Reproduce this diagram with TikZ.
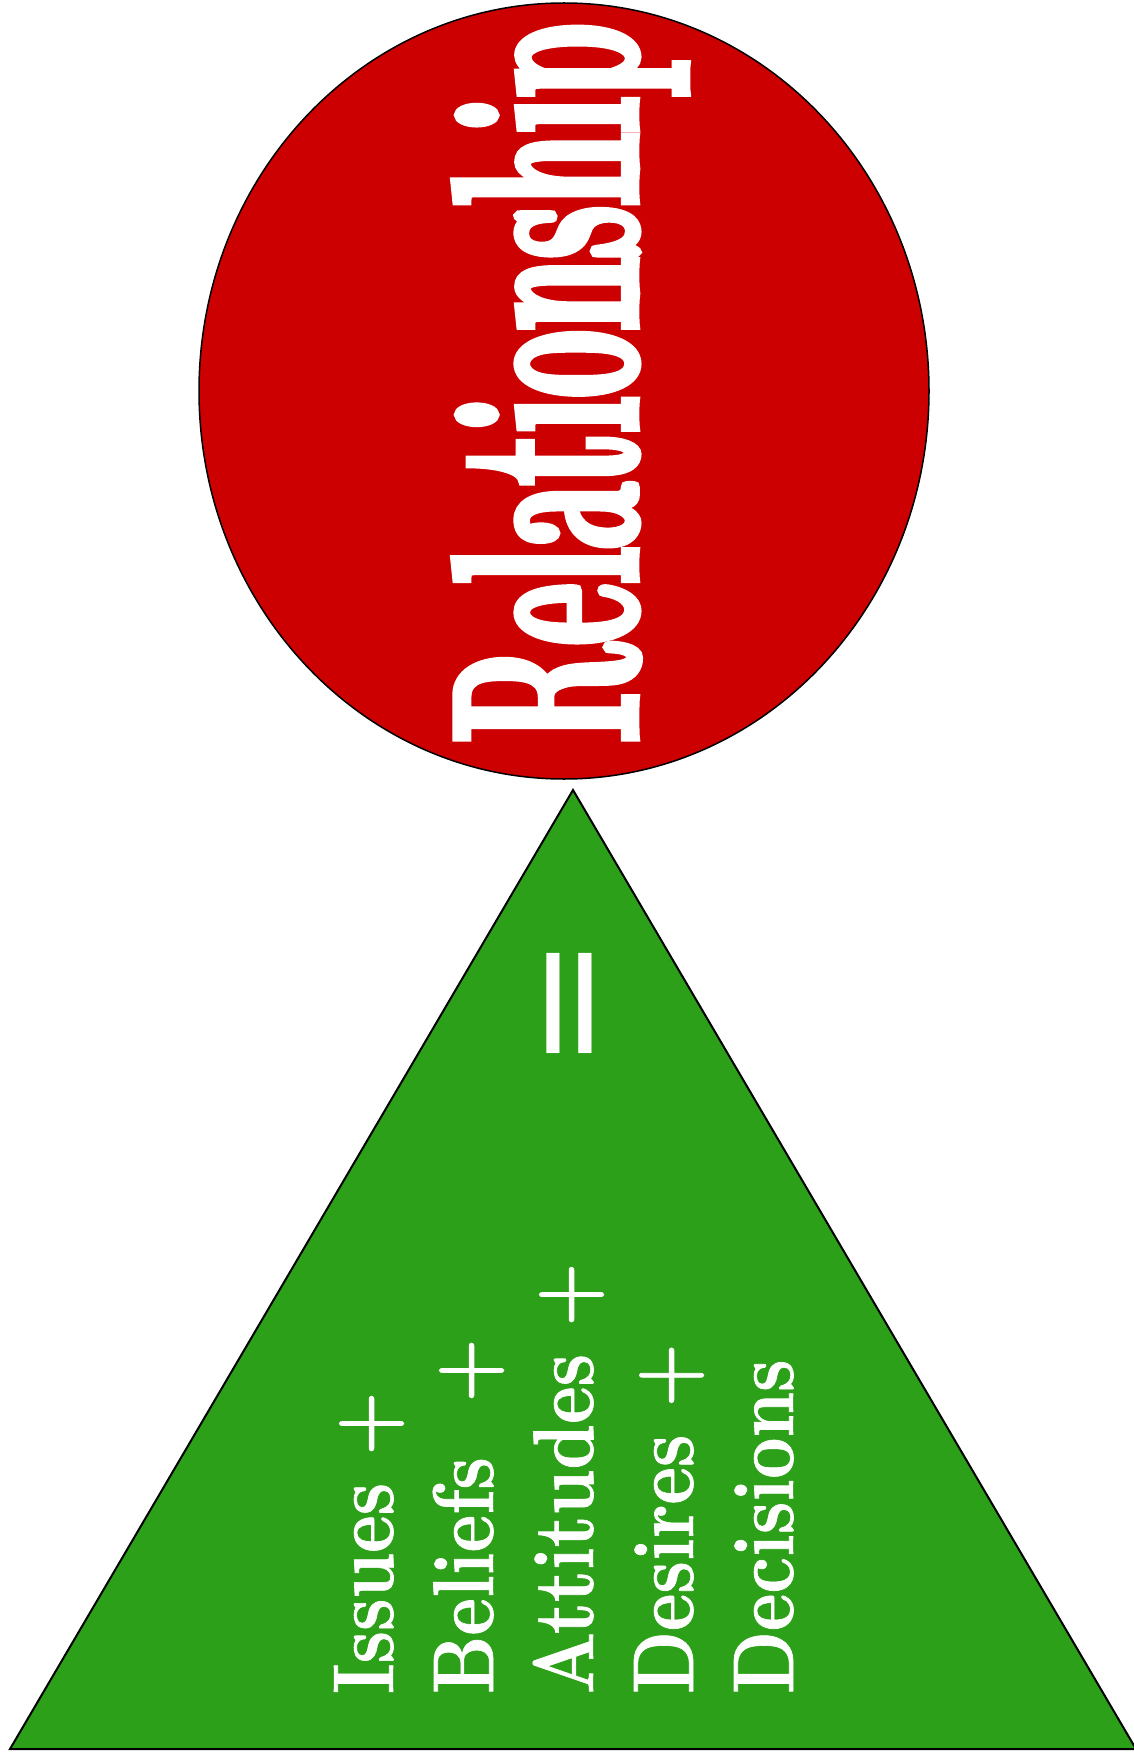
\documentclass[tikz,border=0pt]{standalone}
\usepackage{fontspec}
\usetikzlibrary{shapes.geometric}
\newfontfamily\eqfont{DejaVu Sans}
\newfontfamily\relfont[FakeStretch=0.445, FakeBold=3]{Latin Modern Roman}
\newfontfamily\gfont[FakeStretch=0.85, FakeBold=0.8]{Latin Modern Roman}
\definecolor{relred}{RGB}{204,0,0}
\definecolor{trigreen}{RGB}{44,160,24}
\begin{document}
\begin{tikzpicture}[x=1pt,y=-1pt,
  vtext/.style={rotate=90, anchor=base west, inner sep=0pt, outer sep=0pt, text=white},
  gline/.style={vtext, font=\gfont\bfseries\fontsize{86}{86}\selectfont}]
\useasboundingbox (0,0) rectangle (1134,1760);
\node[ellipse, draw=black, line width=1.5pt, fill=relred, minimum width=730pt, minimum height=776pt, inner sep=0pt] (circ) at (564,391) {};
\coordinate (apex) at (573,790);
\coordinate (bl) at (10,1749);
\coordinate (br) at (1136,1749);
\draw[fill=trigreen, line width=2pt] (apex) -- (bl) -- (br) -- cycle;
\node[vtext, font=\relfont\bfseries\fontsize{262}{262}\selectfont] (rel) at (636,742) {Relationship};
\node[gline] (l1) at (393,1694) {Issues +};
\node[gline] (l2) at (493,1694) {Beliefs~ +};
\node[gline] (l3) at (593,1694) {Attitudes +};
\node[gline] (l4) at (693,1694) {Desires +};
\node[gline] (l5) at (793,1694) {Decisions};
\node[vtext, anchor=center, font=\eqfont\fontsize{160}{160}\selectfont] (eq) at (583,1003) {=};
\end{tikzpicture}
\end{document}
